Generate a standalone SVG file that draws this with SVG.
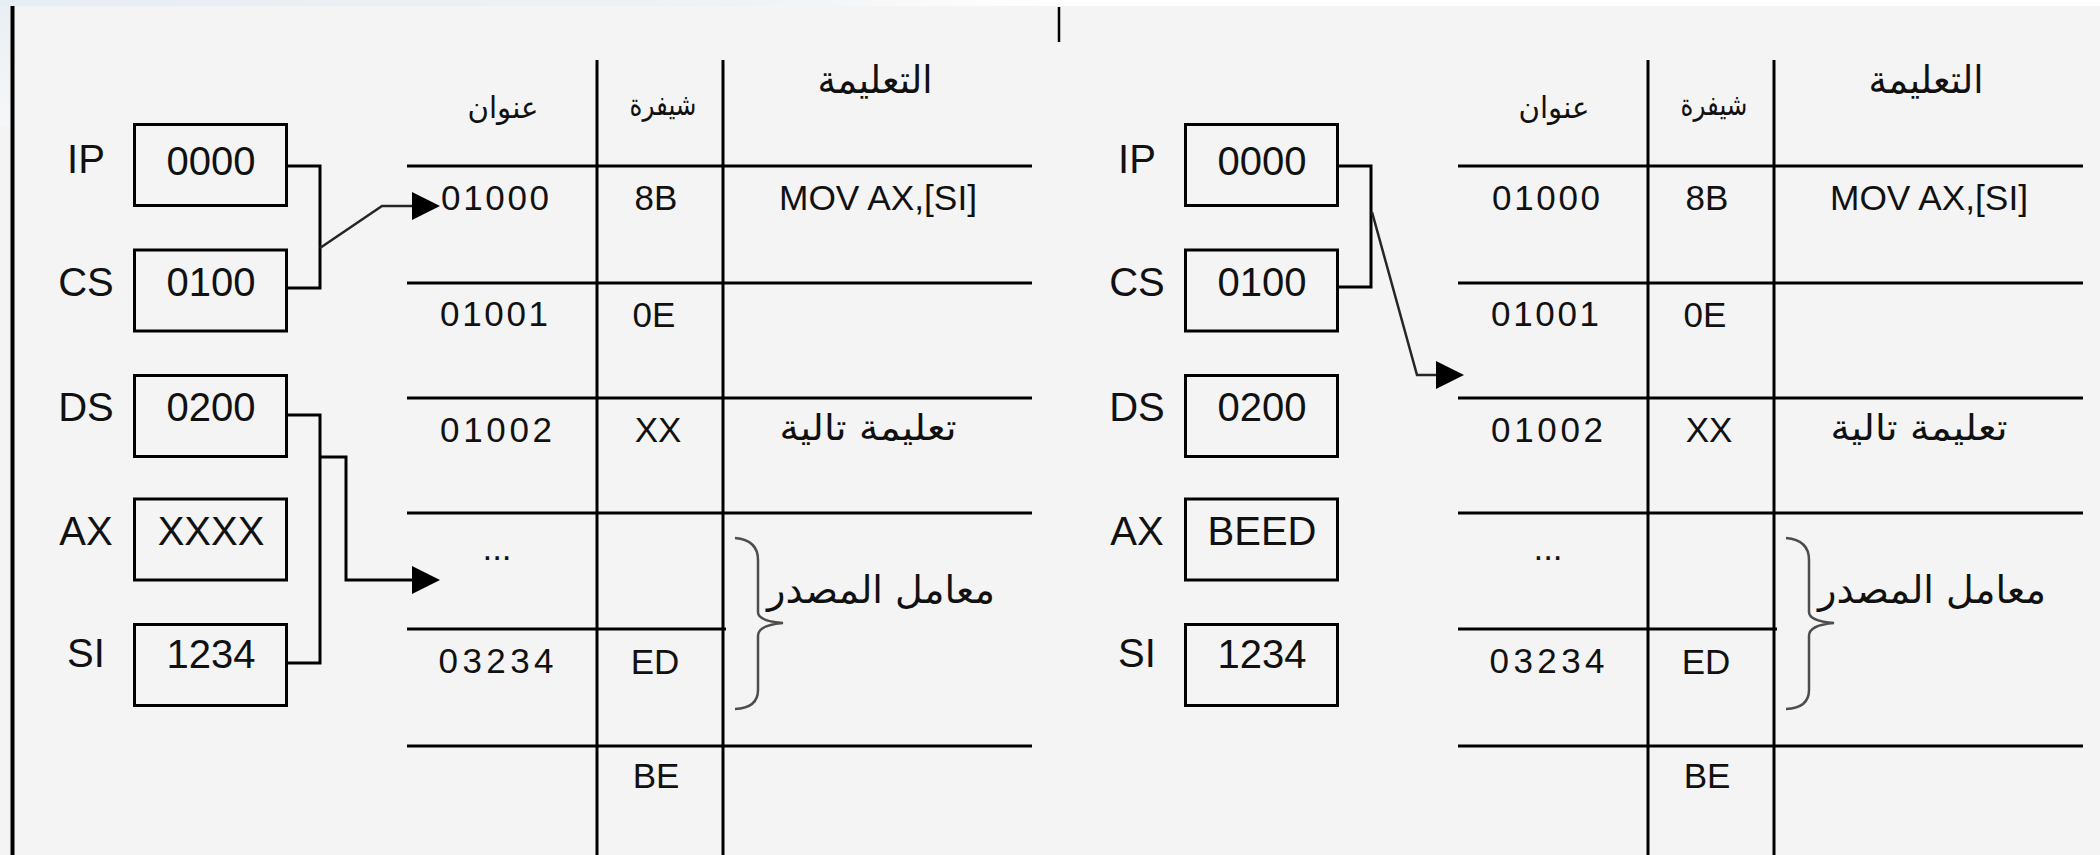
<svg xmlns="http://www.w3.org/2000/svg" width="2100" height="855" viewBox="0 0 2100 855">
  <defs>
    <linearGradient id="topBand" x1="0" y1="0" x2="1" y2="0">
      <stop offset="0" stop-color="#e6edf3"/>
      <stop offset="0.35" stop-color="#eef2f5"/>
      <stop offset="0.5" stop-color="#ffffff"/>
      <stop offset="1" stop-color="#ffffff"/>
    </linearGradient>
    <linearGradient id="leftEdge" x1="0" y1="0" x2="0" y2="1">
      <stop offset="0" stop-color="#e9eff4"/>
      <stop offset="1" stop-color="#f6f7f8"/>
    </linearGradient>
    <marker id="head" viewBox="0 0 28 28" refX="0" refY="14" markerWidth="28" markerHeight="28" markerUnits="userSpaceOnUse" orient="auto">
      <path d="M0,0 L28,14 L0,28 Z" fill="#000"/>
    </marker>
    <style>
      .reg  { font-family: "Liberation Sans", Arial, sans-serif; font-size: 40px; fill: #111; text-anchor: middle; }
      .cell { font-family: "Liberation Sans", Arial, sans-serif; font-size: 35px; fill: #111; text-anchor: middle; }
      .ar   { font-family: "DejaVu Sans", sans-serif; fill: #111; text-anchor: middle; }
      .box  { fill: none; stroke: #000; stroke-width: 3; }
      .grid { stroke: #000; stroke-width: 3; }
      .wire { fill: none; stroke: #000; stroke-width: 3; }
      .link { fill: none; stroke: #262626; stroke-width: 2.5; }
      .brace { fill: none; stroke: #4d4d4d; stroke-width: 2.5; }
    </style>
  </defs>

  <!-- page -->
  <rect x="0" y="0" width="2100" height="855" fill="#f4f4f4"/>
  <rect x="0" y="0" width="2100" height="6" fill="url(#topBand)"/>
  <rect x="0" y="6" width="10" height="120" fill="url(#leftEdge)"/>
  <line x1="12.5" y1="6" x2="12.5" y2="855" stroke="#000" stroke-width="4"/>
  <line x1="1059" y1="7" x2="1059" y2="42" stroke="#000" stroke-width="2.5"/>

  <!-- ===== before execution ===== -->
  <g id="panel-before">
    <g id="before-ip">
      <text class="reg" x="86" y="173">IP</text>
      <rect class="box" x="134.5" y="124.5" width="152" height="81"/>
      <text class="reg" x="211" y="175">0000</text>
    </g>
    <g id="before-cs">
      <text class="reg" x="86" y="296">CS</text>
      <rect class="box" x="134.5" y="250" width="152" height="81"/>
      <text class="reg" x="211" y="296">0100</text>
    </g>
    <g id="before-ds">
      <text class="reg" x="86" y="421">DS</text>
      <rect class="box" x="134.5" y="375.5" width="152" height="81"/>
      <text class="reg" x="211" y="421">0200</text>
    </g>
    <g id="before-ax">
      <text class="reg" x="86" y="545">AX</text>
      <rect class="box" x="134.5" y="499" width="152" height="81"/>
      <text class="reg" x="211" y="545">XXXX</text>
    </g>
    <g id="before-si">
      <text class="reg" x="86" y="667">SI</text>
      <rect class="box" x="134.5" y="624.5" width="152" height="81"/>
      <text class="reg" x="211" y="668">1234</text>
    </g>

    <g id="before-memory">
      <line class="grid" x1="597" y1="60" x2="597" y2="855"/>
      <line class="grid" x1="723" y1="60" x2="723" y2="855"/>
      <line class="grid" x1="407" y1="166" x2="1032" y2="166"/>
      <line class="grid" x1="407" y1="283" x2="1032" y2="283"/>
      <line class="grid" x1="407" y1="398" x2="1032" y2="398"/>
      <line class="grid" x1="407" y1="513" x2="1032" y2="513"/>
      <line class="grid" x1="407" y1="629" x2="726" y2="629"/>
      <line class="grid" x1="407" y1="746" x2="1032" y2="746"/>

      <text class="ar" x="503" y="118" font-size="30" textLength="71" lengthAdjust="spacingAndGlyphs">عنوان</text>
      <text class="ar" x="663" y="115" font-size="30" textLength="67" lengthAdjust="spacingAndGlyphs">شيفرة</text>
      <text class="ar" x="875" y="93" font-size="38" textLength="115" lengthAdjust="spacingAndGlyphs">التعليمة</text>

      <text class="cell" x="495" y="210" textLength="108">01000</text>
      <text class="cell" x="656" y="210">8B</text>
      <text class="cell" x="878" y="210" font-size="34" textLength="198" lengthAdjust="spacingAndGlyphs">MOV AX,[SI]</text>

      <text class="cell" x="494" y="326" textLength="108">01001</text>
      <text class="cell" x="654" y="327">0E</text>

      <text class="cell" x="496" y="442" textLength="112">01002</text>
      <text class="cell" x="658" y="442">XX</text>
      <text class="ar" x="868" y="440" font-size="36" textLength="177" lengthAdjust="spacingAndGlyphs">تعليمة تالية</text>

      <text class="cell" x="497" y="560">...</text>
      <path class="brace" d="M735,538 Q758,540 758,560 L758,612 Q758,621 783,623 Q758,625 758,636 L758,690 Q758,708 735,709"/>
      <text class="ar" x="881" y="603" font-size="38" textLength="228" lengthAdjust="spacingAndGlyphs">معامل المصدر</text>

      <text class="cell" x="496" y="673" textLength="115">03234</text>
      <text class="cell" x="655" y="674">ED</text>

      <text class="cell" x="656" y="788">BE</text>
    </g>
  </g>

  <!-- ===== after execution ===== -->
  <g id="panel-after" transform="translate(1051 0)">
    <g id="after-ip">
      <text class="reg" x="86" y="173">IP</text>
      <rect class="box" x="134.5" y="124.5" width="152" height="81"/>
      <text class="reg" x="211" y="175">0000</text>
    </g>
    <g id="after-cs">
      <text class="reg" x="86" y="296">CS</text>
      <rect class="box" x="134.5" y="250" width="152" height="81"/>
      <text class="reg" x="211" y="296">0100</text>
    </g>
    <g id="after-ds">
      <text class="reg" x="86" y="421">DS</text>
      <rect class="box" x="134.5" y="375.5" width="152" height="81"/>
      <text class="reg" x="211" y="421">0200</text>
    </g>
    <g id="after-ax">
      <text class="reg" x="86" y="545">AX</text>
      <rect class="box" x="134.5" y="499" width="152" height="81"/>
      <text class="reg" x="211" y="545">BEED</text>
    </g>
    <g id="after-si">
      <text class="reg" x="86" y="667">SI</text>
      <rect class="box" x="134.5" y="624.5" width="152" height="81"/>
      <text class="reg" x="211" y="668">1234</text>
    </g>

    <g id="after-memory">
      <line class="grid" x1="597" y1="60" x2="597" y2="855"/>
      <line class="grid" x1="723" y1="60" x2="723" y2="855"/>
      <line class="grid" x1="407" y1="166" x2="1032" y2="166"/>
      <line class="grid" x1="407" y1="283" x2="1032" y2="283"/>
      <line class="grid" x1="407" y1="398" x2="1032" y2="398"/>
      <line class="grid" x1="407" y1="513" x2="1032" y2="513"/>
      <line class="grid" x1="407" y1="629" x2="726" y2="629"/>
      <line class="grid" x1="407" y1="746" x2="1032" y2="746"/>

      <text class="ar" x="503" y="118" font-size="30" textLength="71" lengthAdjust="spacingAndGlyphs">عنوان</text>
      <text class="ar" x="663" y="115" font-size="30" textLength="67" lengthAdjust="spacingAndGlyphs">شيفرة</text>
      <text class="ar" x="875" y="93" font-size="38" textLength="115" lengthAdjust="spacingAndGlyphs">التعليمة</text>

      <text class="cell" x="495" y="210" textLength="108">01000</text>
      <text class="cell" x="656" y="210">8B</text>
      <text class="cell" x="878" y="210" font-size="34" textLength="198" lengthAdjust="spacingAndGlyphs">MOV AX,[SI]</text>

      <text class="cell" x="494" y="326" textLength="108">01001</text>
      <text class="cell" x="654" y="327">0E</text>

      <text class="cell" x="496" y="442" textLength="112">01002</text>
      <text class="cell" x="658" y="442">XX</text>
      <text class="ar" x="868" y="440" font-size="36" textLength="177" lengthAdjust="spacingAndGlyphs">تعليمة تالية</text>

      <text class="cell" x="497" y="560">...</text>
      <path class="brace" d="M735,538 Q758,540 758,560 L758,612 Q758,621 783,623 Q758,625 758,636 L758,690 Q758,708 735,709"/>
      <text class="ar" x="881" y="603" font-size="38" textLength="228" lengthAdjust="spacingAndGlyphs">معامل المصدر</text>

      <text class="cell" x="496" y="673" textLength="115">03234</text>
      <text class="cell" x="655" y="674">ED</text>

      <text class="cell" x="656" y="788">BE</text>
    </g>
  </g>

  <!-- ===== connectors ===== -->
  <g id="connectors">
    <!-- CS:IP before: points at 01000 -->
    <polyline class="wire" points="288,166 320,166 320,288 288,288"/>
    <polyline class="link" points="320,248 382,206 412,206" marker-end="url(#head)"/>
    <!-- DS:SI before: points at the source operand -->
    <polyline class="wire" points="288,415 320,415 320,663 288,663"/>
    <polyline class="wire" points="320,457 346,457 346,580 412,580" marker-end="url(#head)"/>
    <!-- CS:IP after: points at the next instruction -->
    <polyline class="wire" points="1339,166 1371,166 1371,287 1339,287"/>
    <polyline class="link" points="1372,212 1417,375 1436,375" marker-end="url(#head)"/>
  </g>
</svg>
